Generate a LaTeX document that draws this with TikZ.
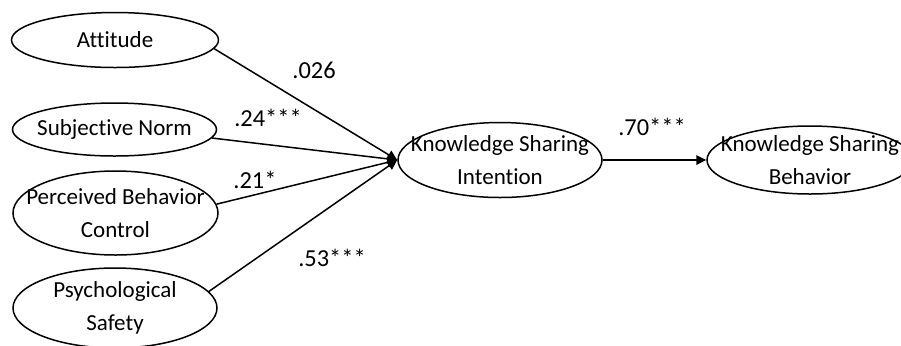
\documentclass[tikz,border=0pt]{standalone}
\usepackage{fontspec}
\setmainfont{Carlito}[Ligatures=NoCommon]
\usepackage{tikz}
\usetikzlibrary{shapes.geometric,arrows.meta,positioning}

\begin{document}
\begin{tikzpicture}[
    x=0.5pt, y=-0.5pt,
    construct/.style={draw, ellipse, line width=0.75pt, inner xsep=-10pt, inner ysep=-4pt, align=center, font=\fontsize{11.5}{16.5}\selectfont},
    arrow/.style={-{Triangle[length=5pt,width=4.8pt]}, line width=0.75pt},
    coef/.style={font=\fontsize{12.2}{14}\selectfont}
]
    \useasboundingbox (0,0) rectangle (901,345);
    \clip (0,0) rectangle (901,345);

    % Constructs
    \node[construct, minimum width=103.5pt, minimum height=27.5pt] (att) at (115,40) {Attitude};
    \node[construct, minimum width=102pt, minimum height=26.5pt] (sn) at (114.5,129.5) {Subjective Norm};
    \node[construct, minimum width=102.5pt, minimum height=42pt] (pbc) at (115.5,213) {Perceived Behavior\\Control};
    \node[construct, minimum width=102pt, minimum height=40pt] (ps) at (115,308) {Psychological\\Safety};
    \node[construct, minimum width=102pt, minimum height=37.5pt] (ksi) at (500,160) {Knowledge Sharing\\Intention};
    \node[construct, minimum width=103pt, minimum height=34pt] (ksb) at (810,160) {Knowledge Sharing\\Behavior};

    % Paths
    \draw[arrow] (att.-5) -- (ksi.west);
    \draw[arrow] (sn.-5) -- (ksi.west);
    \draw[arrow] (pbc.5) -- (ksi.west);
    \draw[arrow] (ps.10) -- (ksi.west);
    \draw[arrow] (ksi) -- (ksb);

    % Coefficients
    \node[coef] (cAtt) at (314,70) {.026};
    \node[coef] (cSn) at (268,118) {.24***};
    \node[coef] (cPbc) at (255,180) {.21*};
    \node[coef] (cPs) at (332,258) {.53***};
    \node[coef] (cKsi) at (652,127) {.70***};
\end{tikzpicture}
\end{document}
